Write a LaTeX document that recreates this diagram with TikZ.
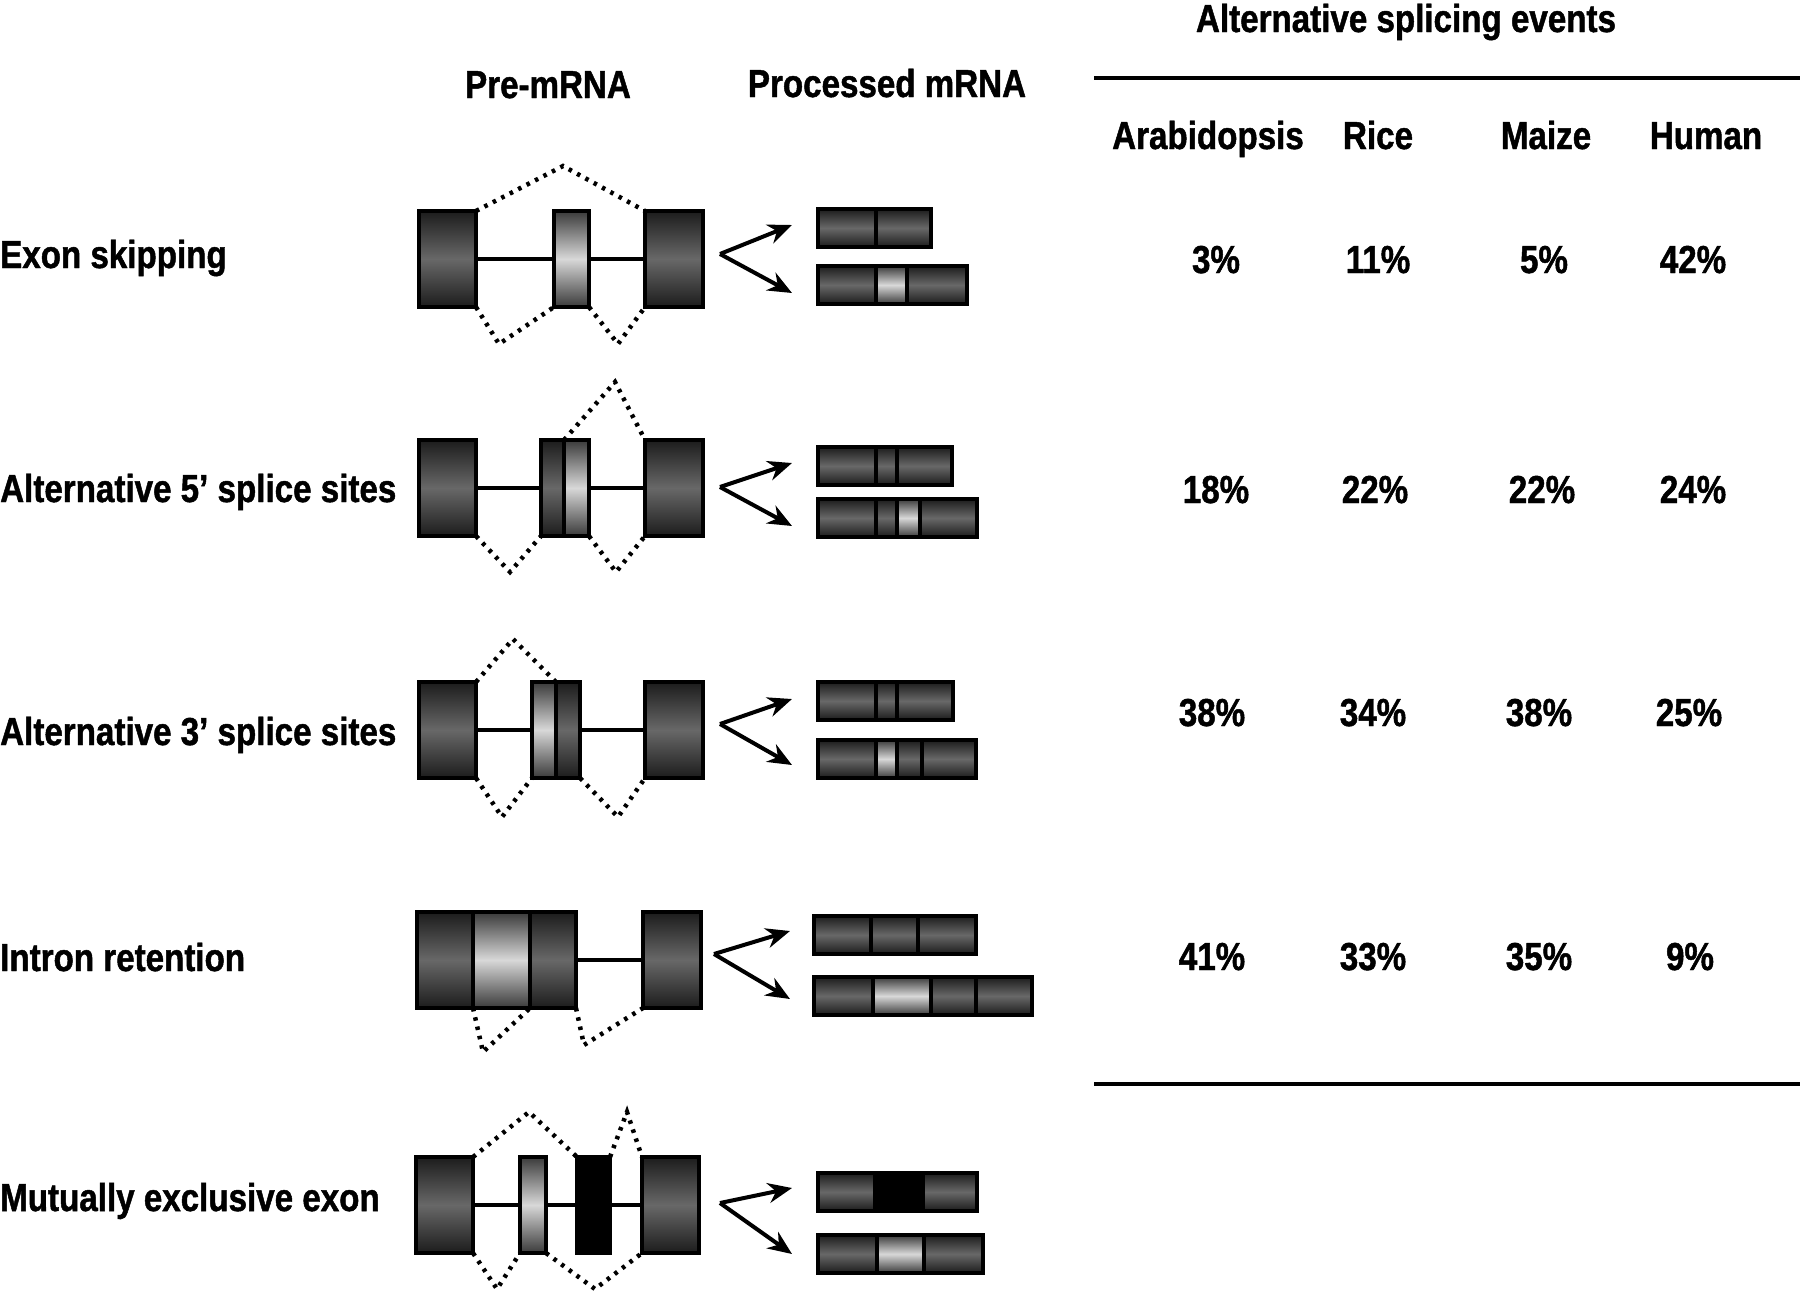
\documentclass[tikz,border=0pt]{standalone}
\usepackage{fontspec}
\setmainfont{Liberation Sans}[FakeStretch=0.85, BoldFeatures={FakeBold=1.2}]
\usepackage{tikz}
\usetikzlibrary{arrows.meta,positioning}
\definecolor{exonedge}{HTML}{1C1C1C}
\definecolor{exonmid}{HTML}{686868}
\definecolor{altedge}{HTML}{3A3A3A}
\definecolor{altmid}{HTML}{D8D8D8}
\tikzstyle{box} = [draw=black, line width=3.5pt, rectangle, inner sep=0pt, outer sep=0pt, anchor=north west, minimum height=96pt]
\tikzstyle{exon} = [box, top color=exonedge, bottom color=exonedge, middle color=exonmid]
\tikzstyle{altexon} = [box, top color=altedge, bottom color=altedge, middle color=altmid]
\tikzstyle{blackexon} = [box, fill=black]
\tikzstyle{seg} = [exon, minimum height=38pt]
\tikzstyle{altseg} = [altexon, minimum height=38pt]
\tikzstyle{blackseg} = [blackexon, minimum height=38pt]
\tikzstyle{intron} = [draw=black, line width=4pt]
\tikzstyle{splice} = [draw=black, line width=4.5pt, dash pattern=on 3.5pt off 6pt]
\tikzstyle{fork} = [draw=black, line width=4pt, ->]
\tikzstyle{tablerule} = [draw=black, line width=4pt]
\tikzstyle{headtext} = [font=\fontsize{39}{44}\selectfont\bfseries, inner sep=0pt, anchor=base]
\tikzstyle{rowtext} = [headtext, anchor=base west]

\begin{document}
\begin{tikzpicture}[auto, x=1pt, y=-1pt, >={Stealth[length=24pt,width=20pt]}]
	\useasboundingbox (0,0) rectangle (1800,1294);

	% headings and table
	\node[headtext] (events) at (1406,32) {Alternative splicing events};
	\node[headtext] (premrna) at (548,98) {Pre-mRNA};
	\node[headtext] (procmrna) at (887,97) {Processed mRNA};
	\node[headtext] (arab) at (1208,149) {Arabidopsis};
	\node[headtext] (rice) at (1378,149) {Rice};
	\node[headtext] (maize) at (1546,149) {Maize};
	\node[headtext] (human) at (1706,149) {Human};
	\coordinate (topRuleL) at (1094,78);
	\coordinate (topRuleR) at (1800,78);
	\coordinate (botRuleL) at (1094,1084);
	\coordinate (botRuleR) at (1800,1084);
	\draw[tablerule] (topRuleL) -- (topRuleR);
	\draw[tablerule] (botRuleL) -- (botRuleR);

	\node[rowtext] (skipText) at (0,268) {Exon skipping};
	\node[rowtext] (alt5Text) at (0,502) {Alternative 5’ splice sites};
	\node[rowtext] (alt3Text) at (0,745) {Alternative 3’ splice sites};
	\node[rowtext] (retText) at (0,971) {Intron retention};
	\node[rowtext] (mutText) at (0,1211) {Mutually exclusive exon};

	\node[headtext] (skipArab) at (1216,273) {3\%};
	\node[headtext] (skipRice) at (1378,273) {11\%};
	\node[headtext] (skipMaize) at (1544,273) {5\%};
	\node[headtext] (skipHuman) at (1693,273) {42\%};
	\node[headtext] (alt5Arab) at (1216,503) {18\%};
	\node[headtext] (alt5Rice) at (1375,503) {22\%};
	\node[headtext] (alt5Maize) at (1542,503) {22\%};
	\node[headtext] (alt5Human) at (1693,503) {24\%};
	\node[headtext] (alt3Arab) at (1212,726) {38\%};
	\node[headtext] (alt3Rice) at (1373,726) {34\%};
	\node[headtext] (alt3Maize) at (1539,726) {38\%};
	\node[headtext] (alt3Human) at (1689,726) {25\%};
	\node[headtext] (retArab) at (1212,970) {41\%};
	\node[headtext] (retRice) at (1373,970) {33\%};
	\node[headtext] (retMaize) at (1539,970) {35\%};
	\node[headtext] (retHuman) at (1690,970) {9\%};

	% exon skipping
	\node[exon, minimum width=57pt] (skipA) at (419,211) {};
	\node[altexon, minimum width=35pt] (skipB) at (554,211) {};
	\node[exon, minimum width=58pt] (skipC) at (645,211) {};
	\draw[intron] (skipA) -- (skipB);
	\draw[intron] (skipB) -- (skipC);
	\coordinate (skipTop) at (563,166);
	\coordinate (skipBot1) at (499,344);
	\coordinate (skipBot2) at (618,344);
	\draw[splice] (skipA.north east) -- (skipTop) -- (skipC.north west);
	\draw[splice] (skipA.south east) -- (skipBot1) -- (skipB.south west);
	\draw[splice] (skipB.south east) -- (skipBot2) -- (skipC.south west);
	\node[seg, minimum width=58pt] (skipM1a) at (818,209) {};
	\node[seg, minimum width=55pt, right=0pt of skipM1a] (skipM1b) {};
	\node[seg, minimum width=58pt] (skipM2a) at (818,266) {};
	\node[altseg, minimum width=31pt, right=0pt of skipM2a] (skipM2b) {};
	\node[seg, minimum width=60pt, right=0pt of skipM2b] (skipM2c) {};
	\coordinate (skipFork) at (720,254);
	\draw[fork] (skipFork) -- ([shift={(-26,-3)}]skipM1a.west);
	\draw[fork] (skipFork) -- ([shift={(-26,8)}]skipM2a.west);

	% alternative 5' splice sites
	\node[exon, minimum width=57pt] (alt5A) at (419,440) {};
	\node[exon, minimum width=23pt] (alt5B1) at (541,440) {};
	\node[altexon, minimum width=25pt, right=0pt of alt5B1] (alt5B2) {};
	\node[exon, minimum width=58pt] (alt5C) at (645,440) {};
	\draw[intron] (alt5A) -- (alt5B1);
	\draw[intron] (alt5B2) -- (alt5C);
	\coordinate (alt5Top) at (615,382);
	\coordinate (alt5Bot1) at (510,572);
	\coordinate (alt5Bot2) at (616,572);
	\draw[splice] (alt5B1.north east) -- (alt5Top) -- (alt5C.north west);
	\draw[splice] (alt5A.south east) -- (alt5Bot1) -- (alt5B1.south west);
	\draw[splice] (alt5B2.south east) -- (alt5Bot2) -- (alt5C.south west);
	\node[seg, minimum width=58pt] (alt5M1a) at (818,447) {};
	\node[seg, minimum width=21pt, right=0pt of alt5M1a] (alt5M1b) {};
	\node[seg, minimum width=55pt, right=0pt of alt5M1b] (alt5M1c) {};
	\node[seg, minimum width=58pt] (alt5M2a) at (818,499) {};
	\node[seg, minimum width=21pt, right=0pt of alt5M2a] (alt5M2b) {};
	\node[altseg, minimum width=23pt, right=0pt of alt5M2b] (alt5M2c) {};
	\node[seg, minimum width=57pt, right=0pt of alt5M2c] (alt5M2d) {};
	\coordinate (alt5Fork) at (720,487);
	\draw[fork] (alt5Fork) -- ([shift={(-26,-3)}]alt5M1a.west);
	\draw[fork] (alt5Fork) -- ([shift={(-26,8)}]alt5M2a.west);

	% alternative 3' splice sites
	\node[exon, minimum width=57pt] (alt3A) at (419,682) {};
	\node[altexon, minimum width=24pt] (alt3B1) at (532,682) {};
	\node[exon, minimum width=24pt, right=0pt of alt3B1] (alt3B2) {};
	\node[exon, minimum width=58pt] (alt3C) at (645,682) {};
	\draw[intron] (alt3A) -- (alt3B1);
	\draw[intron] (alt3B2) -- (alt3C);
	\coordinate (alt3Top) at (513,639);
	\coordinate (alt3Bot1) at (502,817);
	\coordinate (alt3Bot2) at (618,817);
	\draw[splice] (alt3A.north east) -- (alt3Top) -- (alt3B1.north east);
	\draw[splice] (alt3A.south east) -- (alt3Bot1) -- (alt3B1.south west);
	\draw[splice] (alt3B2.south east) -- (alt3Bot2) -- (alt3C.south west);
	\node[seg, minimum width=58pt] (alt3M1a) at (818,682) {};
	\node[seg, minimum width=21pt, right=0pt of alt3M1a] (alt3M1b) {};
	\node[seg, minimum width=56pt, right=0pt of alt3M1b] (alt3M1c) {};
	\node[seg, minimum width=58pt] (alt3M2a) at (818,740) {};
	\node[altseg, minimum width=21pt, right=0pt of alt3M2a] (alt3M2b) {};
	\node[seg, minimum width=25pt, right=0pt of alt3M2b] (alt3M2c) {};
	\node[seg, minimum width=54pt, right=0pt of alt3M2c] (alt3M2d) {};
	\coordinate (alt3Fork) at (720,724);
	\draw[fork] (alt3Fork) -- ([shift={(-26,-2)}]alt3M1a.west);
	\draw[fork] (alt3Fork) -- ([shift={(-26,6)}]alt3M2a.west);

	% intron retention
	\node[exon, minimum width=56pt] (retA1) at (417,912) {};
	\node[altexon, minimum width=57pt, right=0pt of retA1] (retA2) {};
	\node[exon, minimum width=46pt, right=0pt of retA2] (retA3) {};
	\node[exon, minimum width=58pt] (retC) at (643,912) {};
	\draw[intron] (retA3) -- (retC);
	\coordinate (retBot1) at (483,1052);
	\coordinate (retBot2) at (584,1045);
	\draw[splice] (retA1.south east) -- (retBot1) -- (retA2.south east);
	\draw[splice] (retA3.south east) -- (retBot2) -- (retC.south west);
	\node[seg, minimum width=57pt] (retM1a) at (814,916) {};
	\node[seg, minimum width=47pt, right=0pt of retM1a] (retM1b) {};
	\node[seg, minimum width=58pt, right=0pt of retM1b] (retM1c) {};
	\node[seg, minimum width=59pt] (retM2a) at (814,977) {};
	\node[altseg, minimum width=58pt, right=0pt of retM2a] (retM2b) {};
	\node[seg, minimum width=45pt, right=0pt of retM2b] (retM2c) {};
	\node[seg, minimum width=56pt, right=0pt of retM2c] (retM2d) {};
	\coordinate (retFork) at (714,954);
	\draw[fork] (retFork) -- ([shift={(-24,-4)}]retM1a.west);
	\draw[fork] (retFork) -- ([shift={(-24,3)}]retM2a.west);

	% mutually exclusive exon
	\node[exon, minimum width=57pt] (mutA) at (416,1157) {};
	\node[altexon, minimum width=26pt] (mutB) at (520,1157) {};
	\node[blackexon, minimum width=33pt] (mutC) at (577,1157) {};
	\node[exon, minimum width=57pt] (mutD) at (642,1157) {};
	\draw[intron] (mutA) -- (mutB);
	\draw[intron] (mutB) -- (mutC);
	\draw[intron] (mutC) -- (mutD);
	\coordinate (mutTop1) at (529,1112);
	\coordinate (mutTop2) at (627,1112);
	\coordinate (mutBot1) at (497,1289);
	\coordinate (mutBot2) at (595,1289);
	\draw[splice] (mutA.north east) -- (mutTop1) -- (mutC.north west);
	\draw[splice] (mutC.north east) -- (mutTop2) -- (mutD.north west);
	\draw[splice] (mutA.south east) -- (mutBot1) -- (mutB.south west);
	\draw[splice] (mutB.south east) -- (mutBot2) -- (mutD.south west);
	\node[seg, minimum width=57pt] (mutM1a) at (818,1173) {};
	\node[blackseg, minimum width=48pt, right=0pt of mutM1a] (mutM1b) {};
	\node[seg, minimum width=54pt, right=0pt of mutM1b] (mutM1c) {};
	\node[seg, minimum width=59pt] (mutM2a) at (818,1235) {};
	\node[altseg, minimum width=47pt, right=0pt of mutM2a] (mutM2b) {};
	\node[seg, minimum width=59pt, right=0pt of mutM2b] (mutM2c) {};
	\coordinate (mutFork) at (720,1203);
	\draw[fork] (mutFork) -- ([shift={(-26,-4)}]mutM1a.west);
	\draw[fork] (mutFork) -- ([shift={(-26,0)}]mutM2a.west);
\end{tikzpicture}
\end{document}
